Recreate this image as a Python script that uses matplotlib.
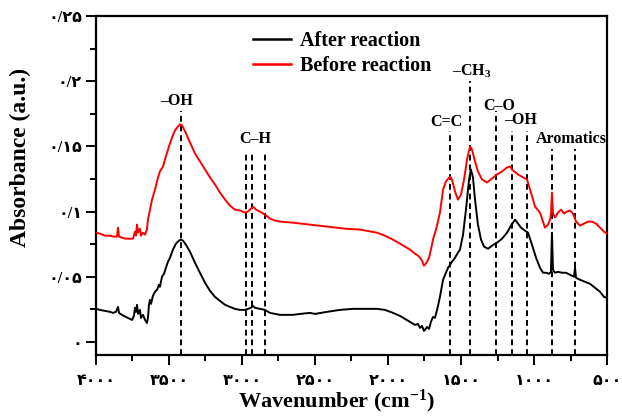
import matplotlib
matplotlib.use("Agg")
import matplotlib.pyplot as plt

plt.rcParams['mathtext.fontset'] = 'custom'
plt.rcParams['mathtext.rm'] = 'Liberation Serif:bold'
plt.rcParams['mathtext.bf'] = 'Liberation Serif:bold'
plt.rcParams['mathtext.it'] = 'Liberation Serif:bold:italic'

# ---------------- data ----------------
after_wn = [4000, 3973, 3938, 3904, 3884, 3863, 3849, 3842, 3822, 3795, 3767, 3753, 3740, 3733, 3726,
            3719, 3712, 3699, 3692, 3678, 3664, 3651, 3644, 3637, 3630, 3623, 3610, 3596, 3582, 3569,
            3562, 3548, 3534, 3521, 3507, 3493, 3473, 3452, 3432, 3418, 3404, 3384, 3356, 3322, 3288,
            3253, 3219, 3185, 3151, 3116, 3082, 3048, 3014, 2979, 2959, 2938, 2925, 2911, 2877, 2843,
            2808, 2740, 2651, 2603, 2534, 2500, 2418, 2329, 2240, 2158, 2075, 2021, 1966, 1918, 1884,
            1849, 1815, 1795, 1781, 1767, 1754, 1747, 1733, 1719, 1706, 1692, 1678, 1664, 1644, 1623,
            1603, 1589, 1575, 1562, 1541, 1521, 1507, 1486, 1466, 1445, 1432, 1418, 1404, 1384, 1363,
            1342, 1315, 1288, 1253, 1219, 1185, 1158, 1130, 1110, 1089, 1062, 1041, 1014, 986, 959,
            938, 918, 897, 884, 877, 870, 856, 836, 808, 781, 753, 726, 719, 712, 685,
            651, 616, 582, 548, 521, 500]
after_abs = [.0254, .0246, .0238, .0231, .0223, .0231, .0269, .0223, .0208, .0192, .0177, .0169, .0200, .0262, .0231,
             .0285, .0215, .0246, .0185, .0208, .0169, .0146, .0185, .0285, .0323, .0292, .0354, .0385, .0400, .0438,
             .0423, .0500, .0523, .0569, .0615, .0646, .0708, .0754, .0777, .0785, .0777, .0746, .0692, .0608, .0531,
             .0454, .0392, .0346, .0315, .0285, .0269, .0254, .0246, .0246, .0254, .0262, .0277, .0262, .0254, .0246,
             .0223, .0208, .0208, .0215, .0223, .0215, .0231, .0246, .0254, .0254, .0254, .0246, .0223, .0200, .0177,
             .0154, .0131, .0138, .0108, .0123, .0085, .0092, .0115, .0100, .0154, .0192, .0185, .0246, .0346, .0477,
             .0531, .0569, .0592, .0615, .0646, .0685, .0708, .0823, .1015, .1246, .1323, .1262, .1092, .0900, .0785,
             .0731, .0715, .0738, .0762, .0792, .0838, .0892, .0938, .0908, .0877, .0854, .0838, .0746, .0646, .0569,
             .0531, .0531, .0523, .0538, .0838, .0554, .0531, .0538, .0531, .0531, .0515, .0500, .0569, .0492, .0477,
             .0462, .0446, .0415, .0385, .0346, .0338]

before_wn = [4000, 3973, 3938, 3904, 3877, 3856, 3849, 3842, 3822, 3795, 3767, 3747, 3733, 3726, 3719,
             3712, 3699, 3692, 3678, 3664, 3651, 3644, 3630, 3616, 3596, 3575, 3562, 3541, 3521, 3500,
             3479, 3459, 3438, 3425, 3411, 3390, 3356, 3322, 3288, 3253, 3219, 3185, 3151, 3116, 3082,
             3048, 3014, 2979, 2959, 2938, 2925, 2904, 2877, 2843, 2808, 2774, 2740, 2651, 2534, 2418,
             2295, 2192, 2075, 2021, 1966, 1918, 1884, 1849, 1815, 1795, 1781, 1767, 1754, 1747, 1733,
             1719, 1706, 1692, 1671, 1644, 1623, 1603, 1575, 1562, 1541, 1521, 1500, 1479, 1459, 1438,
             1425, 1404, 1384, 1356, 1322, 1288, 1253, 1219, 1185, 1164, 1144, 1110, 1075, 1048, 1021,
             993, 959, 925, 904, 890, 884, 877, 870, 856, 836, 815, 795, 774, 753, 733,
             712, 685, 658, 630, 603, 575, 548, 521, 500]
before_abs = [.0838, .0831, .0815, .0815, .0808, .0808, .0877, .0808, .0800, .0792, .0792, .0792, .0846, .0815, .0900,
              .0838, .0869, .0815, .0838, .0823, .0862, .0938, .1015, .1092, .1169, .1262, .1308, .1346, .1423, .1500,
              .1569, .1623, .1654, .1669, .1662, .1615, .1531, .1446, .1385, .1323, .1262, .1208, .1146, .1092, .1046,
              .1015, .1008, .0992, .1000, .1023, .1038, .1015, .1000, .0977, .0946, .0931, .0923, .0915, .0900, .0885,
              .0869, .0862, .0838, .0815, .0785, .0754, .0731, .0708, .0677, .0662, .0646, .0623, .0585, .0592, .0615,
              .0646, .0708, .0785, .0862, .0992, .1169, .1231, .1269, .1246, .1154, .1092, .1131, .1246, .1400, .1500,
              .1477, .1385, .1308, .1246, .1223, .1254, .1285, .1308, .1338, .1346, .1315, .1285, .1262, .1246, .1146,
              .1038, .0992, .0877, .0900, .0938, .0977, .1146, .0985, .0954, .0992, .1015, .0985, .1000, .1008, .0985,
              .0923, .0892, .0908, .0923, .0923, .0908, .0877, .0846, .0831]

# marker lines: position (cm-1) and top (a.u.)
mark_wn = [3418, 2973, 2932, 2843, 1575, 1438, 1260, 1151, 1048, 877, 719]
mark_top = [.1769, .1462, .1462, .1462, .1615, .2000, .1769, .1615, .1615, .1477, .1477]

# peak labels
label_text = ['–OH', 'C–H', 'C=C', '–CH$_{3}$', 'C–O', '–OH', 'Aromatics']
label_wn = [3445, 2911, 1603, 1425, 1240, 1089, 747]
label_abs = [.1846, .1560, .1690, .2075, .1810, .1700, .1560]

xticks = [4000, 3500, 3000, 2500, 2000, 1500, 1000, 500]
xtick_labels = ['۴۰۰۰', '۳۵۰۰', '۳۰۰۰', '۲۵۰۰', '۲۰۰۰', '۱۵۰۰', '۱۰۰۰', '۵۰۰']
yticks = [0, 0.05, 0.10, 0.15, 0.20, 0.25]
ytick_labels = ['۰', '۰/۰۵', '۰/۱', '۰/۱۵', '۰/۲', '۰/۲۵']

# ---------------- figure ----------------
fig = plt.figure(figsize=(6.22, 4.18), dpi=100)
ax = fig.add_axes([0.1543, 0.1507, 0.8216, 0.811])

serif_b = dict(family=['Liberation Serif', 'DejaVu Sans'], weight='bold')

ymin = -0.01
for w, t in zip(mark_wn, mark_top):
    ax.plot([w, w], [ymin, t], color='black', lw=1.4, ls=(0, (3, 2)), zorder=1)

ax.plot(after_wn, after_abs, color='black', lw=1.4, label='After reaction', zorder=3)
ax.plot(before_wn, before_abs, color='#ff0000', lw=1.4, label='Before reaction', zorder=3)

for t, w, a in zip(label_text, label_wn, label_abs):
    ax.text(w, a, t, ha='center', va='center', fontsize=11.5, **serif_b)

ax.set_xlim(4000, 500)
ax.set_ylim(ymin, 0.25)
ax.set_xticks(xticks)
ax.set_xticklabels(xtick_labels)
ax.set_xticks([3750, 3250, 2750, 2250, 1750, 1250, 750], minor=True)
ax.set_yticks(yticks)
ax.set_yticklabels(ytick_labels)
ax.set_yticks([0.025, 0.075, 0.125, 0.175, 0.225], minor=True)

for lab in ax.get_xticklabels() + ax.get_yticklabels():
    lab.set_fontfamily(['Liberation Serif', 'DejaVu Sans'])
    lab.set_fontweight('bold')
    lab.set_fontsize(11.5)

ax.tick_params(axis='x', which='major', pad=6)
ax.tick_params(axis='both', which='major', direction='out', length=7, width=1.4)
ax.tick_params(axis='y', which='major', pad=3)
ax.tick_params(axis='both', which='minor', direction='out', length=4, width=1.4)
ax.tick_params(top=False, right=False, which='both')
for s in ax.spines.values():
    s.set_linewidth(1.6)

ax.set_xlabel('Wavenumber (cm$^{\\mathbf{-1}}$)', fontsize=16, **serif_b)
ax.set_ylabel('Absorbance (a.u.)', fontsize=17, **serif_b)
ax.xaxis.set_label_coords(0.47, -0.098)
ax.yaxis.set_label_coords(-0.128, 0.584)

leg = ax.legend(loc='upper left', bbox_to_anchor=(0.307, 0.956), frameon=False,
                prop=dict(family='Liberation Serif', weight='bold', size=14.5),
                handlelength=1.9, handletextpad=0.45, labelspacing=0.27,
                borderaxespad=0, borderpad=0)
for l in leg.get_lines():
    l.set_linewidth(1.8)

fig.savefig('out.png', dpi=100)
